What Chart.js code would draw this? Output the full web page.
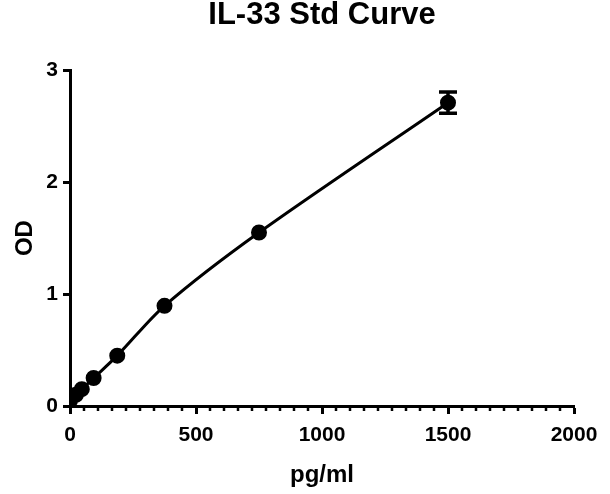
<!DOCTYPE html>
<html>
<head>
<meta charset="utf-8">
<script src="https://cdn.jsdelivr.net/npm/chart.js@4/dist/chart.umd.min.js"></script>
<style>
  html,body{margin:0;padding:0;background:#fff;}
</style>
</head>
<body>
<canvas id="chart" width="610" height="494"></canvas>
<script>
'use strict';
// standards (pg/ml) and mean OD
var concentrations=[0,23.44,46.88,93.75,187.5,375,750,1500];
var odValues=[0.05,0.10,0.15,0.25,0.45,0.895,1.55,2.71];
var odErrors=[0.005,0.005,0.008,0.01,0.01,0.015,0.02,0.095];
var xTicks=[0,500,1000,1500,2000];
var yTicks=[0,1,2,3];
var minorPerMajor=9;

var points=concentrations.map(function(c,i){return {x:c,y:odValues[i]};});

var errorBars={
  id:'errorBars',
  afterDatasetsDraw:function(chart){
    var ctx=chart.ctx,xs=chart.scales.x,ys=chart.scales.y;
    ctx.save();
    ctx.strokeStyle='#000';
    ctx.lineWidth=3.5;
    concentrations.forEach(function(c,i){
      var px=xs.getPixelForValue(c);
      var top=ys.getPixelForValue(odValues[i]+odErrors[i]);
      var bot=ys.getPixelForValue(odValues[i]-odErrors[i]);
      if(bot-top<8)return;
      ctx.beginPath();
      ctx.moveTo(px,top);ctx.lineTo(px,bot);
      ctx.moveTo(px-9,top);ctx.lineTo(px+9,top);
      ctx.moveTo(px-9,bot);ctx.lineTo(px+9,bot);
      ctx.stroke();
    });
    ctx.restore();
  }
};

var minorTicks={
  id:'minorTicks',
  afterDraw:function(chart){
    var ctx=chart.ctx,xs=chart.scales.x,y0=chart.chartArea.bottom;
    var step=(xTicks[1]-xTicks[0])/minorPerMajor;
    ctx.save();
    ctx.strokeStyle='#000';
    ctx.lineWidth=2.5;
    for(var m=0;m<xTicks.length-1;m++){
      for(var k=1;k<minorPerMajor;k++){
        var px=xs.getPixelForValue(xTicks[m]+k*step);
        ctx.beginPath();
        ctx.moveTo(px,y0);ctx.lineTo(px,y0+5);
        ctx.stroke();
      }
    }
    ctx.restore();
  }
};

var boldFont=function(size){return {family:'"Liberation Sans", Arial, sans-serif',size:size,weight:'bold'};};

new Chart(document.getElementById('chart'),{
  type:'scatter',
  data:{datasets:[{
    data:points,
    showLine:true,
    borderColor:'#000',
    backgroundColor:'#000',
    borderWidth:3,
    pointRadius:6.5,
    pointHoverRadius:6.5,
    tension:0.3
  }]},
  options:{
    responsive:false,
    animation:false,
    devicePixelRatio:1,
    layout:{padding:{left:0,right:36,top:0,bottom:0}},
    plugins:{
      legend:{display:false},
      tooltip:{enabled:false},
      title:{display:true,fullSize:false,text:'IL-33 Std Curve',color:'#000',font:boldFont(31),padding:{top:-3,bottom:36}}
    },
    scales:{
      x:{
        type:'linear',min:0,max:2000,
        afterBuildTicks:function(s){s.ticks=xTicks.map(function(v){return {value:v};});},
        afterFit:function(s){s.height=88;},
        ticks:{color:'#000',font:boldFont(21),padding:9,maxRotation:0,autoSkip:false,
          callback:function(v){return String(v);}},
        grid:{display:true,drawOnChartArea:false,tickLength:8,tickWidth:3,tickColor:'#000'},
        border:{color:'#000',width:3},
        title:{display:true,text:'pg/ml',color:'#000',font:boldFont(24),padding:{top:0,bottom:4}}
      },
      y:{
        type:'linear',min:0,max:3,
        afterBuildTicks:function(s){s.ticks=yTicks.map(function(v){return {value:v};});},
        afterFit:function(s){s.width=70;},
        ticks:{color:'#000',font:boldFont(21),padding:5,autoSkip:false,
          callback:function(v){return String(v);}},
        grid:{display:true,drawOnChartArea:false,tickLength:7,tickWidth:3,tickColor:'#000'},
        border:{color:'#000',width:3},
        title:{display:true,text:'OD',color:'#000',font:boldFont(24),padding:{top:11,bottom:0}}
      }
    }
  },
  plugins:[errorBars,minorTicks]
});
</script>
</body>
</html>
